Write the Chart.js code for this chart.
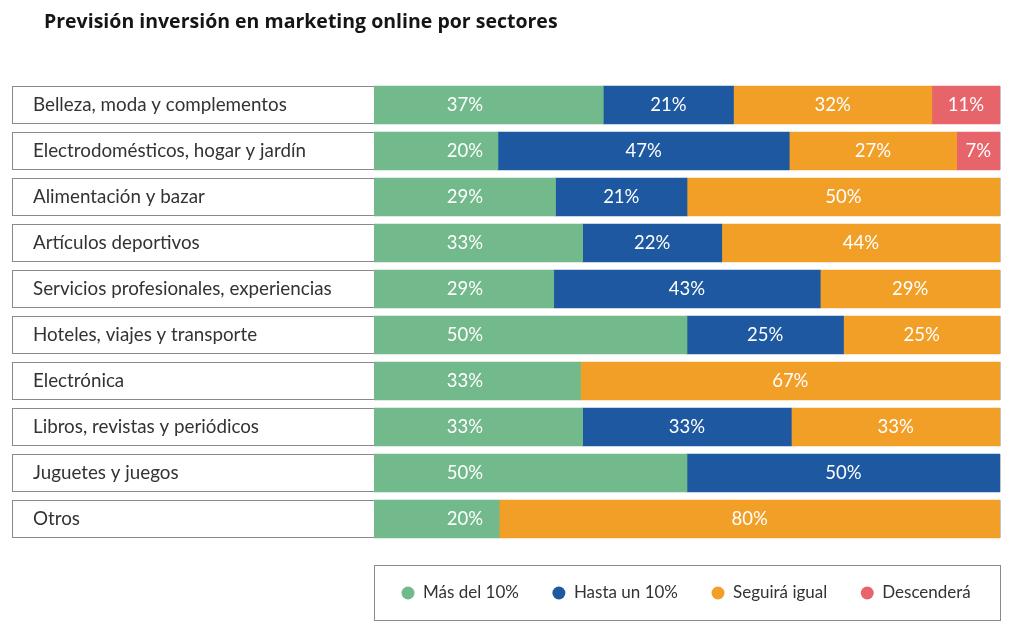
<!DOCTYPE html>
<html>
<head>
<meta charset="utf-8">
<script src="https://cdn.jsdelivr.net/npm/chart.js@4/dist/chart.umd.min.js"></script>
<style>
  html, body { margin: 0; padding: 0; background: #ffffff; }
  #wrap { width: 1024px; height: 641px; position: relative; }
</style>
</head>
<body>
<div id="wrap"><canvas id="c" width="1024" height="641"></canvas></div>
<script>
const titleText = 'Previsión inversión en marketing online por sectores';
const categories = [
  'Belleza, moda y complementos',
  'Electrodomésticos, hogar y jardín',
  'Alimentación y bazar',
  'Artículos deportivos',
  'Servicios profesionales, experiencias',
  'Hoteles, viajes y transporte',
  'Electrónica',
  'Libros, revistas y periódicos',
  'Juguetes y juegos',
  'Otros'
];
const masDel10     = [37, 20, 29, 33, 29, 50, 33, 33, 50, 20];
const hastaUn10    = [21, 47, 21, 22, 43, 25, null, 33, 50, null];
const seguiraIgual = [32, 27, 50, 44, 29, 25, 67, 33, null, 80];
const descendera   = [11, 7, null, null, null, null, null, null, null, null];
const seriesNames  = ['Más del 10%', 'Hasta un 10%', 'Seguirá igual', 'Descenderá'];
const seriesColors = ['#72b98b', '#1d58a0', '#f29f28', '#e6646a'];

const rawSeries = [masDel10, hastaUn10, seguiraIgual, descendera];
const rowSums = categories.map((_, i) => rawSeries.reduce((s, arr) => s + (arr[i] || 0), 0));
const shares = rawSeries.map(arr => arr.map((v, i) => v == null ? null : v / rowSums[i] * 100));

const FONT = 'Lato, "Open Sans", sans-serif';

const decor = {
  id: 'decor',
  beforeDatasetsDraw(chart) {
    const ctx = chart.ctx;
    const y = chart.scales.y;
    const area = chart.chartArea;
    const meta = chart.getDatasetMeta(0);
    ctx.save();
    // title
    ctx.fillStyle = '#151515';
    ctx.font = 'bold 19.5px "Open Sans", sans-serif';
    ctx.textBaseline = 'alphabetic';
    ctx.textAlign = 'left';
    ctx.fillText(titleText, 44, 28);
    // label boxes
    categories.forEach((cat, i) => {
      const el = meta.data[i];
      const h = el.height;
      const cy = y.getPixelForValue(i);
      const top = Math.round(cy - h / 2) + 0.5;
      ctx.strokeStyle = '#8a8a8a';
      ctx.lineWidth = 1;
      ctx.strokeRect(12.5, top, area.right - 12.5, Math.round(h) - 1);
      ctx.fillStyle = '#333333';
      ctx.font = '18.8px ' + FONT;
      ctx.textBaseline = 'middle';
      ctx.textAlign = 'left';
      ctx.fillText(cat, 33, cy);
    });
    ctx.restore();
  },
  afterDatasetsDraw(chart) {
    const ctx = chart.ctx;
    const area = chart.chartArea;
    ctx.save();
    ctx.font = '18.5px ' + FONT;
    ctx.fillStyle = '#ffffff';
    ctx.textAlign = 'center';
    ctx.textBaseline = 'middle';
    chart.data.datasets.forEach((ds, di) => {
      const meta = chart.getDatasetMeta(di);
      meta.data.forEach((el, i) => {
        const raw = rawSeries[di][i];
        if (raw == null) return;
        const x = di === 0 ? area.left + 91 : (el.base + el.x) / 2;
        ctx.fillText(raw + '%', x, el.y);
      });
    });
    // legend box
    const bx = area.left + 0.5, by = 565.5, bw = area.right - area.left, bh = 55;
    ctx.strokeStyle = '#8a8a8a';
    ctx.lineWidth = 1;
    ctx.strokeRect(bx, by, bw, bh);
    ctx.font = '17px ' + FONT;
    ctx.textAlign = 'left';
    let lx = area.left + 34;
    const ly = by + bh / 2;
    seriesNames.forEach((name, i) => {
      ctx.fillStyle = seriesColors[i];
      ctx.beginPath();
      ctx.arc(lx, ly, 6.5, 0, Math.PI * 2);
      ctx.fill();
      ctx.fillStyle = '#333333';
      ctx.fillText(name, lx + 15, ly);
      lx += 15 + ctx.measureText(name).width + 40;
    });
    ctx.restore();
  }
};

new Chart(document.getElementById('c'), {
  type: 'bar',
  data: {
    labels: categories,
    datasets: seriesNames.map((name, i) => ({
      label: name,
      data: shares[i],
      backgroundColor: seriesColors[i],
      borderWidth: 0,
      barThickness: 38
    }))
  },
  options: {
    indexAxis: 'y',
    responsive: false,
    animation: false,
    layout: { padding: { left: 374, right: 24, top: 82, bottom: 99 } },
    scales: {
      x: { stacked: true, min: 0, max: 100, display: false },
      y: { stacked: true, display: false }
    },
    plugins: {
      legend: { display: false },
      tooltip: { enabled: false }
    }
  },
  plugins: [decor]
});
</script>
</body>
</html>
